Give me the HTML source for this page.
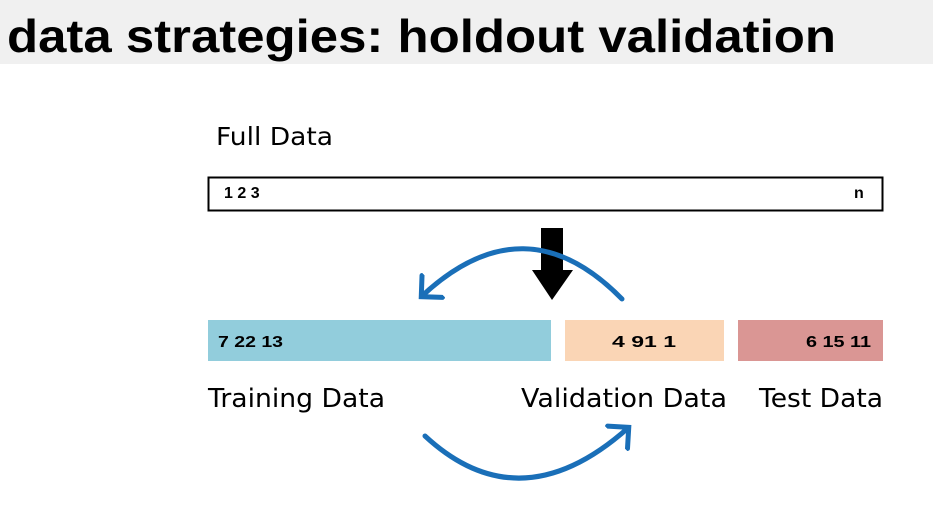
<!DOCTYPE html>
<html><head><meta charset="utf-8"><style>
html,body{margin:0;padding:0;background:#fff;}
svg{display:block;}
</style></head><body>
<svg width="933" height="516" viewBox="0 0 933 516">
<defs>
<marker id="ah" markerWidth="7" markerHeight="7" refX="3.2" refY="3.5" orient="auto" markerUnits="strokeWidth">
<path d="M0.4,0.5 L3.4,3.5 L0.4,6.5" fill="none" stroke="#1a6fb8" stroke-width="1" stroke-linecap="round"/>
</marker>
</defs>
<rect x="0" y="0" width="933" height="64" fill="#f0f0f0"/>
<text x="7" y="52" font-family="Liberation Sans, sans-serif" font-weight="bold" font-size="46" textLength="829" lengthAdjust="spacingAndGlyphs" fill="#000">data strategies: holdout validation</text>

<text x="216" y="145" font-family="DejaVu Sans, sans-serif" font-size="25" textLength="117" lengthAdjust="spacingAndGlyphs" fill="#000">Full Data</text>
<rect x="208.5" y="177.5" width="674" height="33" fill="#fff" stroke="#000" stroke-width="2"/>
<text x="224" y="198" font-family="Liberation Sans, sans-serif" font-weight="bold" font-size="16" fill="#000">1 2 3</text>
<text x="854" y="198" font-family="Liberation Sans, sans-serif" font-weight="bold" font-size="16" fill="#000">n</text>

<path d="M541,228 H563 V270 H573 L552,300 L532,270 H541 Z" fill="#000"/>

<rect x="208" y="320" width="343" height="41" fill="#92cddc"/>
<text x="218" y="347" font-family="Liberation Sans, sans-serif" font-weight="bold" font-size="16" textLength="65" lengthAdjust="spacingAndGlyphs" fill="#000">7 22 13</text>
<rect x="565" y="320" width="159" height="41" fill="#fad5b5"/>
<text x="612" y="347" font-family="Liberation Sans, sans-serif" font-weight="bold" font-size="16" textLength="64" lengthAdjust="spacingAndGlyphs" fill="#000">4  91  1</text>
<rect x="738" y="320" width="145" height="41" fill="#da9694"/>
<text x="806" y="347" font-family="Liberation Sans, sans-serif" font-weight="bold" font-size="16" textLength="65" lengthAdjust="spacingAndGlyphs" fill="#000">6 15 11</text>

<text x="208" y="407" font-family="DejaVu Sans, sans-serif" font-size="26" textLength="177" lengthAdjust="spacingAndGlyphs" fill="#000">Training Data</text>
<text x="521" y="407" font-family="DejaVu Sans, sans-serif" font-size="26" textLength="206" lengthAdjust="spacingAndGlyphs" fill="#000">Validation Data</text>
<text x="759" y="407" font-family="DejaVu Sans, sans-serif" font-size="26" textLength="124" lengthAdjust="spacingAndGlyphs" fill="#000">Test Data</text>

<path d="M622,299 Q525,200 422,296" fill="none" stroke="#1a6fb8" stroke-width="5" stroke-linecap="round" marker-end="url(#ah)"/>
<path d="M425,436 Q520,524 628,428" fill="none" stroke="#1a6fb8" stroke-width="5" stroke-linecap="round" marker-end="url(#ah)"/>
</svg>
</body></html>
